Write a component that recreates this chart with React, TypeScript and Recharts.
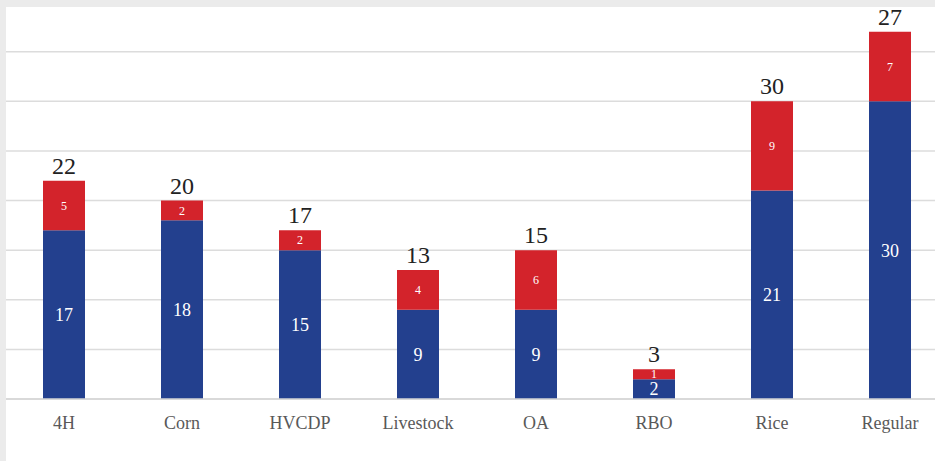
import { BarChart, Bar, XAxis, YAxis, CartesianGrid, LabelList } from 'recharts';

const categories = ['4H', 'Corn', 'HVCDP', 'Livestock', 'OA', 'RBO', 'Rice', 'Regular'];
const blueValues = [17, 18, 15, 9, 9, 2, 21, 30];
const redValues = [5, 2, 2, 4, 6, 1, 9, 7];
const topLabels = [22, 20, 17, 13, 15, 3, 30, 27];
const yTicks = [0, 5, 10, 15, 20, 25, 30, 35, 40];

const data = categories.map((name, i) => ({
  name,
  blue: blueValues[i],
  red: redValues[i],
  top: topLabels[i],
}));

const serif = '"Liberation Serif", "DejaVu Serif", serif';

export default function App() {
  return (
    <div
      style={{
        position: 'absolute',
        left: 0,
        top: 0,
        width: 935,
        height: 461,
        overflow: 'hidden',
        background: '#ebebeb',
      }}
    >
      <div
        style={{
          position: 'absolute',
          left: 6,
          top: 7,
          width: 929,
          height: 454,
          overflow: 'hidden',
          background: '#ffffff',
        }}
      >
        <div style={{ position: 'absolute', left: -6, top: -7 }}>
          <BarChart
            width={960}
            height={461}
            data={data}
            margin={{ top: 2, right: 11, bottom: 22, left: 5 }}
            barSize={42}
          >
            <CartesianGrid vertical={false} stroke="#dcdcdc" strokeWidth={1.5} />
            <XAxis
              dataKey="name"
              axisLine={{ stroke: '#d4d4d4', strokeWidth: 1.5 }}
              tickLine={false}
              height={40}
              tickMargin={11}
              tick={{ fill: '#595959', fontSize: 18, fontFamily: serif }}
            />
            <YAxis hide domain={[0, 40]} ticks={yTicks} />
            <Bar dataKey="blue" stackId="s" fill="#23408e" isAnimationActive={false}>
              <LabelList
                dataKey="blue"
                position="center"
                fill="#ffffff"
                fontSize={18}
                fontFamily={serif}
              />
            </Bar>
            <Bar dataKey="red" stackId="s" fill="#d3232b" isAnimationActive={false}>
              <LabelList
                dataKey="red"
                position="center"
                fill="#ffffff"
                fontSize={12}
                fontFamily={serif}
              />
              <LabelList
                dataKey="top"
                position="top"
                offset={7}
                fill="#222222"
                fontSize={24}
                fontFamily={serif}
              />
            </Bar>
          </BarChart>
        </div>
      </div>
    </div>
  );
}
